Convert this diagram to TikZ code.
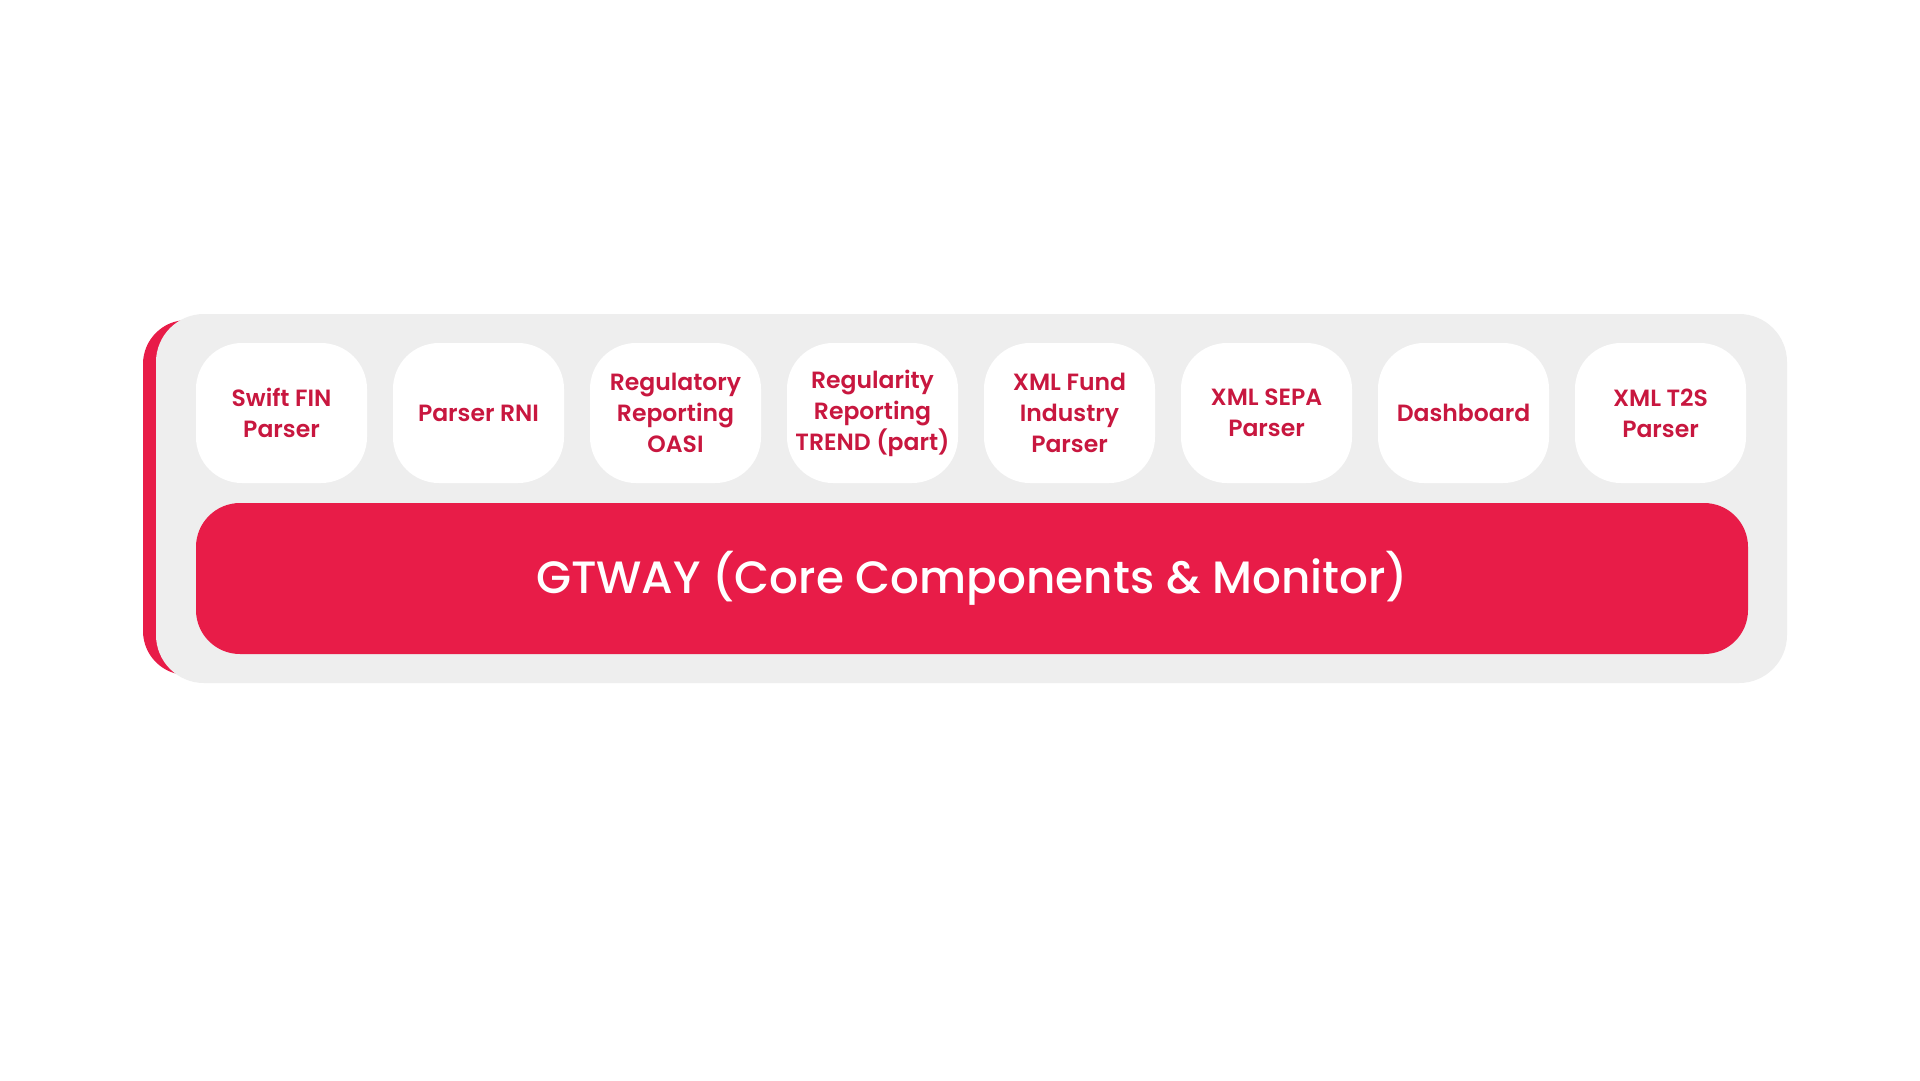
\documentclass[tikz,border=0pt]{standalone}
\usepackage{fontspec}
\setmainfont{Poppins}
\newfontfamily\popsb{Poppins SemiBold}
\newfontfamily\popmd{Poppins Medium}
\definecolor{accent}{HTML}{E81C48}
\definecolor{labelred}{HTML}{C8173F}
\definecolor{panelgray}{HTML}{EEEEEE}
\tikzset{
  backbar/.style={fill=accent, draw=none, rounded corners=44pt},
  panel/.style={fill=panelgray, draw=none, rounded corners=48pt},
  modbox/.style={fill=white, draw=none, rounded corners=46pt, minimum width=171pt, minimum height=140pt,
    align=center, text=labelred, font=\popsb\fontsize{23.5}{31}\selectfont, inner sep=0pt},
  corebox/.style={fill=accent, draw=none, rounded corners=44pt, minimum width=1552pt, minimum height=151pt,
    text=white, font=\popmd\fontsize{45.3}{52}\selectfont, inner sep=0pt}
}
\begin{document}
\begin{tikzpicture}[x=1pt, y=-1pt]
\useasboundingbox (0,0) rectangle (1920,1080);
\fill[white] (0,0) rectangle (1920,1080);
\path[backbar] (143,320) rectangle (1700,675);
\path[panel] (156,314) rectangle (1787,683);
\node[modbox] (m1) at (281.5,413) {Swift FIN\\Parser};
\node[modbox] (m2) at (478.5,413) {Parser RNI};
\node[modbox] (m3) at (675.5,413) {Regulatory\\Reporting\\OASI};
\node[modbox] (m4) at (872.5,413) {Regularity\\Reporting\\TREND (part)};
\node[modbox] (m5) at (1069.5,413) {XML Fund\\Industry\\Parser};
\node[modbox] (m6) at (1266.5,413) {XML SEPA\\Parser};
\node[modbox] (m7) at (1463.5,413) {Dashboard};
\node[modbox] (m8) at (1660.5,413) {XML T2S\\Parser};
\node[corebox] (core) at (972,578.5) {GTWAY (Core Components \& Monitor)};
\end{tikzpicture}
\end{document}
